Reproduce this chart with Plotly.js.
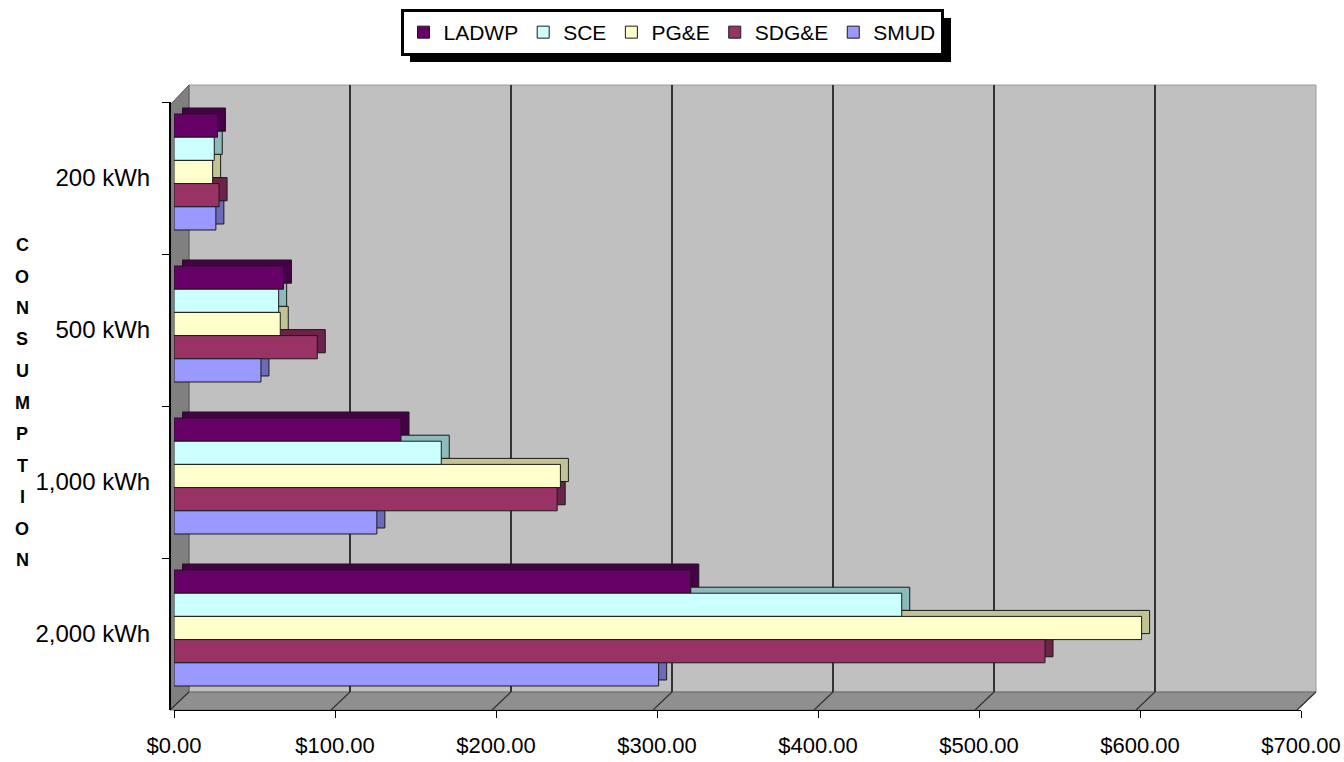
<!DOCTYPE html>
<html>
<head>
<meta charset="utf-8">
<script src="https://cdn.plot.ly/plotly-3.0.1.min.js"></script>
<style>
html,body{margin:0;padding:0;background:#fff;}
#chart{width:1344px;height:762px;}
</style>
</head>
<body>
<div id="chart"></div>
<script>
// ---- data ----
const categories = ["200 kWh", "500 kWh", "1,000 kWh", "2,000 kWh"];
const seriesNames = ["LADWP", "SCE", "PG&E", "SDG&E", "SMUD"];
const ladwp = [27, 68, 141, 321];
const sce   = [25, 65, 166, 452];
const pge   = [24, 66, 240, 601];
const sdge  = [28, 89, 238, 541];
const smud  = [26, 54, 126, 301];
const tickValues = [0, 100, 200, 300, 400, 500, 600, 700];
const tickLabels = ["$0.00", "$100.00", "$200.00", "$300.00", "$400.00", "$500.00", "$600.00", "$700.00"];
const axisTitle = "CONSUMPTION";

// ---- style ----
const colors = ["#660066", "#CCFFFF", "#FFFFCC", "#993366", "#9999FF"];
const depthColors = ["#470047", "#8FBABA", "#C2C296", "#6B2447", "#6B6BB8"];
const W = 1344, H = 762;
const px = v => v / W;
const py = v => 1 - v / H;
const FONT = "Liberation Sans, Arial, sans-serif";

// geometry (pixels)
const backL = 189, backR = 1316, backT = 85, backB = 692;
const frontL = 170, frontB = 710;
const barL = 174, barR = 1301;
const labTop = 102, labBot = 710;
const barShift = 6;          // bars sit slightly above label centres
const depthX = 8, depthY = 6; // 3-D extrusion offset

const seriesVals = [ladwp, sce, pge, sdge, smud];
const traces = [];
// extrusion (back faces), drawn first on subplot x2y2
seriesVals.forEach((vals, i) => traces.push({
  type: "bar", orientation: "h", name: seriesNames[i],
  x: vals, y: categories, xaxis: "x2", yaxis: "y2",
  showlegend: false, hoverinfo: "skip",
  marker: { color: depthColors[i], line: { color: "#1a1a1a", width: 1 } }
}));
// front faces on subplot x3y4
seriesVals.forEach((vals, i) => traces.push({
  type: "bar", orientation: "h", name: seriesNames[i],
  x: vals, y: categories, xaxis: "x3", yaxis: "y4",
  marker: { color: colors[i], line: { color: "#1a1a1a", width: 1 } },
  hoverinfo: "x+name"
}));
// invisible trace that carries the category label axis
traces.push({
  type: "scatter", mode: "markers",
  x: categories.map(() => null), y: categories,
  xaxis: "x3", yaxis: "y3",
  showlegend: false, hoverinfo: "skip",
  marker: { opacity: 0 }
});
// invisible trace for the back-wall grid subplot
traces.push({
  type: "scatter", mode: "markers",
  x: [null], y: [null], xaxis: "x", yaxis: "y",
  showlegend: false, hoverinfo: "skip",
  marker: { opacity: 0 }
});

const shapes = [];
// back wall
shapes.push({ type: "rect", xref: "paper", yref: "paper", layer: "below",
  x0: px(backL), x1: px(backR), y0: py(backB), y1: py(backT),
  fillcolor: "#C0C0C0", line: { color: "#9a9a9a", width: 1 } });
// left wall
shapes.push({ type: "path", xref: "paper", yref: "paper", layer: "below",
  path: `M ${px(frontL)} ${py(labTop+3)} L ${px(backL)} ${py(backT)} L ${px(backL)} ${py(backB)} L ${px(frontL)} ${py(frontB)} Z`,
  fillcolor: "#808080", line: { color: "#555", width: 1 } });
// floor
const floorFrontR = frontL + (backR - backL);
shapes.push({ type: "path", xref: "paper", yref: "paper", layer: "below",
  path: `M ${px(frontL)} ${py(frontB)} L ${px(backL)} ${py(backB)} L ${px(backR)} ${py(backB)} L ${px(floorFrontR)} ${py(frontB)} Z`,
  fillcolor: "#8F8F8F", line: { color: "#6a6a6a", width: 1 } });
// floor diagonals from grid lines to front ticks
const step = (backR - backL) / 700;
tickValues.forEach(v => {
  shapes.push({ type: "line", xref: "paper", yref: "paper", layer: "below",
    x0: px(backL + v * step), y0: py(backB), x1: px(frontL + v * step), y1: py(frontB),
    line: { color: "#333", width: 1.2 } });
});
// legend shadow
shapes.push({ type: "rect", xref: "paper", yref: "paper", layer: "above",
  x0: px(410), x1: px(951), y0: py(62), y1: py(18),
  fillcolor: "#000", line: { width: 0 } });

// vertical stacked axis title letters
const titleTop = 245, titleStep = 31.5;
const annotations = axisTitle.split("").map((c, i) => ({
  xref: "paper", yref: "paper", x: px(22), y: py(titleTop + i * titleStep),
  xanchor: "center", yanchor: "middle", showarrow: false,
  text: "<b>" + c + "</b>",
  font: { family: FONT, size: 18, color: "#000" }
}));

const catRange = [categories.length - 0.5, -0.5];
const layout = {
  width: W, height: H,
  margin: { l: 0, r: 0, t: 0, b: 0 },
  paper_bgcolor: "#ffffff",
  plot_bgcolor: "rgba(0,0,0,0)",
  font: { family: FONT, color: "#000", size: 20 },
  barmode: "group",
  bargap: 0.237,
  bargroupgap: 0,
  showlegend: true,
  legend: {
    orientation: "h", x: 0.5, xanchor: "center", y: py(9), yanchor: "top",
    bgcolor: "#ffffff", bordercolor: "#000", borderwidth: 3,
    font: { family: FONT, size: 21, color: "#000" },
    traceorder: "normal", itemwidth: 30
  },
  xaxis: {
    domain: [px(backL), px(backR)], range: [0, 700], anchor: "y",
    tickvals: tickValues, showticklabels: false, ticks: "",
    showgrid: true, gridcolor: "#333", gridwidth: 1.5,
    zeroline: false, showline: false, fixedrange: true
  },
  yaxis: {
    domain: [py(backB), py(backT)], range: [0, 1], anchor: "x",
    visible: false, showgrid: false, zeroline: false, fixedrange: true
  },
  // extrusion axes (shifted by the 3-D depth)
  xaxis2: {
    domain: [px(barL + depthX), px(barR + depthX)], range: [0, 700], anchor: "y2",
    visible: false, showgrid: false, zeroline: false, fixedrange: true
  },
  yaxis2: {
    domain: [py(labBot - barShift - depthY), py(labTop - barShift - depthY)], anchor: "x2",
    type: "category", categoryarray: categories, range: catRange,
    visible: false, showgrid: false, zeroline: false, fixedrange: true
  },
  // front face axes
  xaxis3: {
    domain: [px(barL), px(barR)], range: [0, 700],
    anchor: "free", position: py(frontB),
    tickvals: tickValues, ticktext: tickLabels,
    ticks: "outside", ticklen: 7, tickcolor: "#000", tickwidth: 1,
    showline: true, linecolor: "#000", linewidth: 1,
    showgrid: false, zeroline: false,
    tickfont: { family: FONT, size: 22, color: "#000" },
    ticklabelstandoff: 9, fixedrange: true
  },
  yaxis3: {
    domain: [py(labBot), py(labTop)],
    anchor: "free", position: px(frontL - 1),
    type: "category", categoryarray: categories, range: catRange,
    ticks: "outside", ticklen: 7, tickson: "boundaries", tickcolor: "#000",
    showline: true, linecolor: "#000", linewidth: 1.5,
    showgrid: false, zeroline: false,
    tickfont: { family: FONT, size: 24, color: "#000" },
    ticklabelstandoff: 14, fixedrange: true
  },
  yaxis4: {
    domain: [py(labBot - barShift), py(labTop - barShift)], anchor: "x3",
    type: "category", categoryarray: categories, range: catRange,
    visible: false, showgrid: false, zeroline: false, fixedrange: true
  },
  shapes: shapes,
  annotations: annotations
};

Plotly.newPlot("chart", traces, layout, { displayModeBar: false, staticPlot: true });
</script>
</body>
</html>
